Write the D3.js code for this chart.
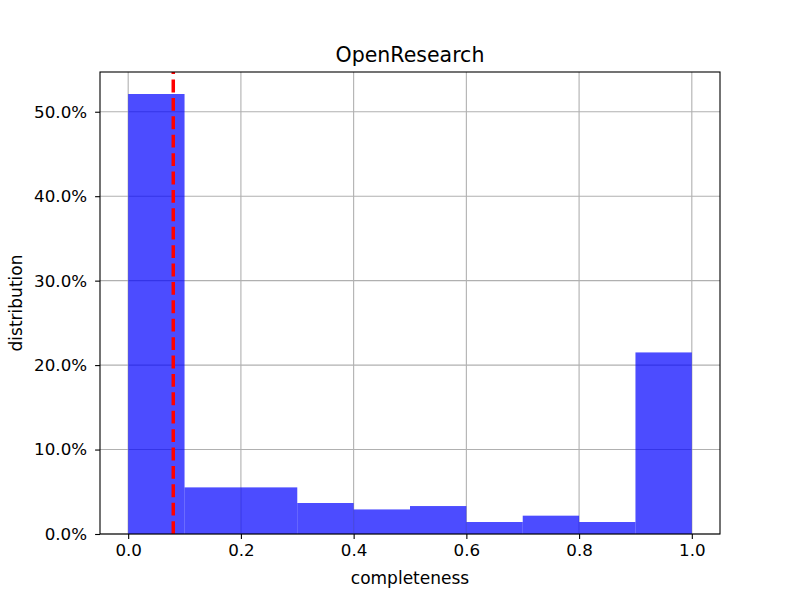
<!DOCTYPE html>
<html>
<head>
    <title>OpenResearch</title>
    <script src="https://d3js.org/d3.v7.min.js"></script>
    <style>
        body { margin: 0; background: #fff; }
        text { font-family: "DejaVu Sans", sans-serif; fill: #000; }
    </style>
</head>
<body>
<script>
    var w = 800;
    var h = 600;
    // histogram bins (completeness) and share of items per bin (percent)
    var binStarts = [0.0, 0.1, 0.2, 0.3, 0.4, 0.5, 0.6, 0.7, 0.8, 0.9];
    var binShares = [52.1, 5.52, 5.52, 3.67, 2.91, 3.31, 1.42, 2.17, 1.42, 21.5];
    var binWidth = 0.1;
    var markerValue = 0.08;
    var xTicks = [0.0, 0.2, 0.4, 0.6, 0.8, 1.0];
    var yTicks = [0, 10, 20, 30, 40, 50];

    var margin = {left: 100, right: 80, top: 72, bottom: 66};

    //Create scale functions
    var xScale = d3.scaleLinear()
                   .domain([-0.05, 1.05])
                   .range([margin.left, w - margin.right]);
    var yMax = d3.max(binShares) * 1.05;
    var yScale = d3.scaleLinear()
                   .domain([0, yMax])
                   .range([h - margin.bottom, margin.top]);

    var svg = d3.select("body")
                .append("svg")
                .attr("width", w)
                .attr("height", h);

    var x0 = margin.left, x1 = w - margin.right;
    var y0 = h - margin.bottom, y1 = margin.top;

    // grid
    svg.append("g").selectAll("line.vg")
        .data(xTicks).enter().append("line")
        .attr("x1", function(d){return xScale(d);})
        .attr("x2", function(d){return xScale(d);})
        .attr("y1", y0).attr("y2", y1)
        .attr("stroke", "#b0b0b0").attr("stroke-width", 1.1);
    svg.append("g").selectAll("line.hg")
        .data(yTicks).enter().append("line")
        .attr("y1", function(d){return yScale(d);})
        .attr("y2", function(d){return yScale(d);})
        .attr("x1", x0).attr("x2", x1)
        .attr("stroke", "#b0b0b0").attr("stroke-width", 1.1);

    // bars
    svg.append("g").selectAll("rect")
        .data(binStarts).enter().append("rect")
        .attr("x", function(d){return xScale(d);})
        .attr("width", function(d){return xScale(d + binWidth) - xScale(d);})
        .attr("y", function(d, i){return yScale(binShares[i]);})
        .attr("height", function(d, i){return yScale(0) - yScale(binShares[i]);})
        .attr("fill", "blue")
        .attr("fill-opacity", 0.7);

    // dashed marker, drawn from bottom up like matplotlib
    svg.append("line")
        .attr("x1", xScale(markerValue)).attr("x2", xScale(markerValue))
        .attr("y1", y0).attr("y2", y1)
        .attr("stroke", "red")
        .attr("stroke-width", 3.5)
        .attr("stroke-dasharray", "12.85,5.55");

    // axes
    var xAxis = d3.axisBottom(xScale)
                  .tickValues(xTicks)
                  .tickFormat(d3.format(".1f"))
                  .tickSize(4.9).tickPadding(5);
    var yAxis = d3.axisLeft(yScale)
                  .tickValues(yTicks)
                  .tickFormat(function(d){return d.toFixed(1) + "%";})
                  .tickSize(4.9).tickPadding(8);

    var gx = svg.append("g").attr("transform", "translate(0," + y0 + ")").call(xAxis);
    var gy = svg.append("g").attr("transform", "translate(" + x0 + ",0)").call(yAxis);
    [gx, gy].forEach(function(g){
        g.select(".domain").remove();
        g.selectAll(".tick line").attr("stroke", "#000").attr("stroke-width", 1.1);
        g.selectAll(".tick text").attr("font-size", "16.7px")
            .attr("font-family", "DejaVu Sans, sans-serif").attr("fill", "#000");
    });

    // frame
    svg.append("rect")
        .attr("x", x0).attr("y", y1)
        .attr("width", x1 - x0).attr("height", y0 - y1)
        .attr("fill", "none").attr("stroke", "#000").attr("stroke-width", 1.1);

    // labels
    svg.append("text")
        .attr("x", (x0 + x1) / 2).attr("y", 62)
        .attr("text-anchor", "middle")
        .attr("font-size", "20.5px")
        .text("OpenResearch");
    svg.append("text")
        .attr("x", (x0 + x1) / 2).attr("y", 584)
        .attr("text-anchor", "middle")
        .attr("font-size", "17px")
        .text("completeness");
    svg.append("text")
        .attr("transform", "translate(22," + ((y0 + y1) / 2) + ") rotate(-90)")
        .attr("text-anchor", "middle")
        .attr("font-size", "17px")
        .text("distribution");
</script>
</body>
</html>
